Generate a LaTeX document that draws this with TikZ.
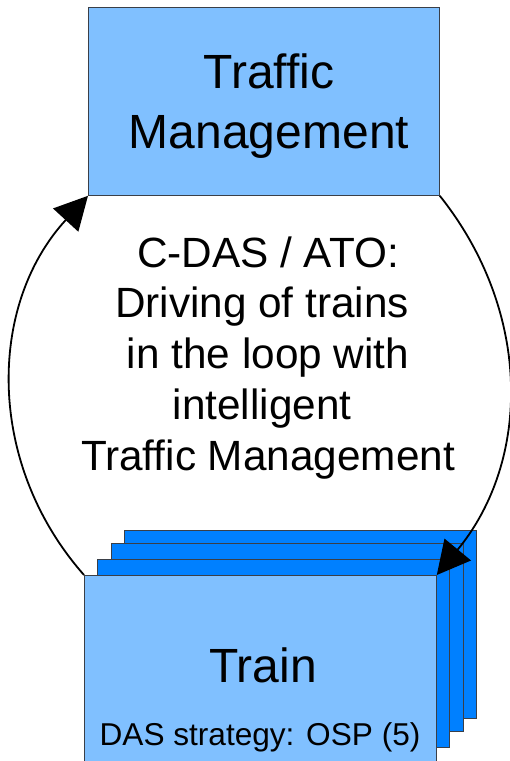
\documentclass[tikz,border=0pt]{standalone}
\usepackage{fontspec}
\setmainfont{Liberation Sans}
\usetikzlibrary{arrows.meta}
\definecolor{paleblue}{HTML}{80C0FF}
\definecolor{deepblue}{HTML}{0080FF}
\definecolor{edgegray}{HTML}{3A3F47}
\tikzset{
  block/.style={draw=edgegray, line width=0.8pt, anchor=north west,
    minimum width=352pt, minimum height=188pt, inner sep=0pt},
  frontblock/.style={block, fill=paleblue},
  backblock/.style={block, fill=deepblue},
  loop/.style={draw=black, line width=1.8pt,
    -{Triangle[length=33pt,width=34pt]}},
  bigtext/.style={font=\fontsize{48}{60}\selectfont, align=center, inner sep=0pt},
  midtext/.style={font=\fontsize{42.3}{50.75}\selectfont, align=center, inner sep=0pt}
}
\begin{document}
\begin{tikzpicture}[x=1pt, y=-1pt]
  \useasboundingbox (0,0) rectangle (510,761);

  % Traffic management block
  \node[frontblock, minimum width=351pt] (tm) at (88,7) {};
  \node[bigtext, anchor=base] (tmlabel) at (269,148) {Traffic\\Management};

  % Stack of train blocks, rear to front
  \node[backblock] (train3) at (124,530) {};
  \node[backblock] (train2) at (111,543) {};
  \node[backblock] (train1) at (97,559) {};
  \node[frontblock] (train) at (84,575) {};
  \node[bigtext, anchor=base] (trainlabel) at (263,682) {Train};
  \node[font=\fontsize{31.6}{38}\selectfont, anchor=base, inner sep=0pt]
    (dasstrategy) at (260,745) {DAS strategy: OSP (5)};

  % Closed loop between trains and traffic management
  \draw[loop] (train.north west) to[bend left=42] (tm.south west);
  \draw[loop] (tm.south east) to[bend left=39] (train.north east);

  % Description inside the loop
  \node[midtext, anchor=base] (loopdesc) at (268,470)
    {C-DAS / ATO:\\Driving of trains\kern.28em\\in the loop with\\intelligent\kern.28em\\Traffic Management};
\end{tikzpicture}
\end{document}
